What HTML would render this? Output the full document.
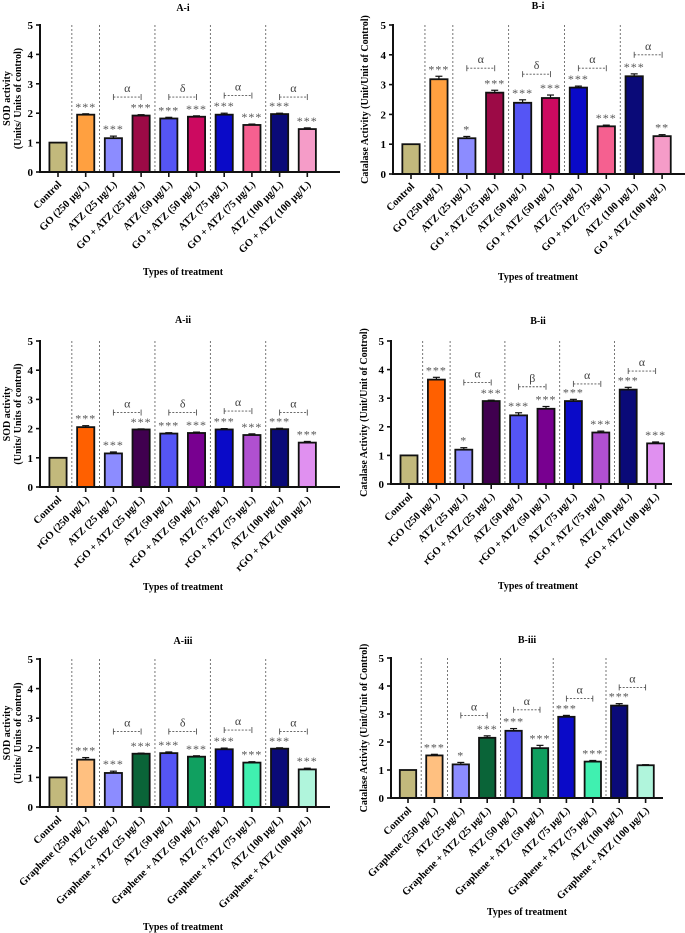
<!DOCTYPE html>
<html><head><meta charset="utf-8"><style>
body{margin:0;background:#fff}
svg{display:block;font-family:"Liberation Serif",serif}
</style></head><body>
<svg id="fig" width="685" height="933" viewBox="0 0 685 933" xmlns="http://www.w3.org/2000/svg"></svg>
<script>
const colsGO=["#c2b97c","#ffa040","#8c8cff","#9c0a46","#5555f5","#cc0a60","#0a0ac8","#f56090","#0a0a78","#f59cc8"];
const colsRGO=["#c2b97c","#ff6000","#8c8cff","#40004f","#5555f5","#780090","#0a0ac8","#b050d0","#0a0a78","#e090f0"];
const colsGR=["#c2b97c","#ffc080","#8c8cff","#0a6438","#5555f5","#10a060","#0a0ac8","#40f0b0","#0a0a78","#b0f5dc"];
const mk=n=>["Control",n+" (250 µg/L)","ATZ (25 µg/L)",n+" + ATZ (25 µg/L)","ATZ (50 µg/L)",n+" + ATZ (50 µg/L)","ATZ (75 µg/L)",n+" + ATZ (75 µg/L)","ATZ (100 µg/L)",n+" + ATZ (100 µg/L)"];
const catsGO=mk("GO"), catsRGO=mk("rGO"), catsGR=mk("Graphene");
const valsAi=[1,1.95,1.15,1.92,1.82,1.88,1.95,1.6,1.97,1.46];
const errAi=[0,0.03,0.07,0.03,0.04,0.03,0.05,0.03,0.03,0.04];
const valsBi=[1,3.18,1.2,2.73,2.39,2.55,2.9,1.6,3.28,1.27];
const errBi=[0,0.1,0.06,0.08,0.1,0.1,0.05,0.04,0.08,0.05];
const valsAii=[1,2.05,1.15,1.97,1.83,1.85,1.97,1.78,1.98,1.52];
const errAii=[0,0.05,0.05,0.02,0.03,0.03,0.03,0.04,0.03,0.04];
const valsBii=[1,3.65,1.2,2.9,2.4,2.63,2.9,1.8,3.3,1.42];
const errBii=[0,0.08,0.07,0.03,0.09,0.08,0.06,0.05,0.08,0.05];
const valsAiii=[1,1.6,1.15,1.8,1.82,1.7,1.95,1.5,1.97,1.27];
const errAiii=[0,0.07,0.06,0.02,0.04,0.03,0.04,0.03,0.03,0.04];
const valsBiii=[1,1.52,1.2,2.15,2.4,1.78,2.9,1.3,3.3,1.17];
const errBiii=[0,0.04,0.07,0.07,0.08,0.1,0.05,0.04,0.07,0.02];
const sigA=["","***","***","***","***","***","***","***","***","***"];
const sigBi=["","***","*","***","***","***","***","***","***","**"];
const sigBii=["","***","*","***","***","***","***","***","***","***"];
const sigBiii=["","***","*","***","***","***","***","***","***",""];
const brSymA=["α","δ","α","α"], brLvlA=[2.55,2.55,2.6,2.55];
const brSymBi=["α","δ","α","α"], brLvlBi=[3.55,3.35,3.55,4.0];
const brSymBii=["α","β","α","α"], brLvlBii=[3.55,3.4,3.5,3.95];
const brSymBiii=["α","α","α","α"], brLvlBiii=[2.95,3.15,3.55,3.95];
const yTicks=[0,1,2,3,4,5];

const svg=document.getElementById('fig');
const NS="http://www.w3.org/2000/svg";
function el(tag,attrs,parent,text){const e=document.createElementNS(NS,tag);for(const k in attrs)e.setAttribute(k,attrs[k]);if(text!==undefined)e.textContent=text;(parent||svg).appendChild(e);return e;}

function panel(p){
  const g=el('g',{});
  
  
  const ys=v=>p.y0-(p.y0-p.y5)*v/5;
  const xs=i=>p.x0+p.step*i;
  const bw=p.step*0.62;
  const t=el('text',{x:p.tx,y:p.ty,'font-size':10,'font-weight':'bold','text-anchor':'middle'},g,p.id);
  
  [0,1,3,5,7].forEach(i=>{
    const d=el('line',{x1:xs(i)+p.step/2,x2:xs(i)+p.step/2,y1:p.y5,y2:p.y0,stroke:'#555','stroke-width':0.8,'stroke-dasharray':'2,2'},g);
    
  });
  p.vals.forEach((v,i)=>{
    const x=xs(i);
    const b=el('rect',{x:x-bw/2,y:ys(v),width:bw,height:p.y0-ys(v),fill:p.cols[i],stroke:'#111','stroke-width':1.8},g);
    
    if(p.err[i]>0){
      const ey=ys(v+p.err[i]);
      el('line',{x1:x,x2:x,y1:ys(v),y2:ey,stroke:'#111','stroke-width':1.2},g);
      el('line',{x1:x-3.5,x2:x+3.5,y1:ey,y2:ey,stroke:'#111','stroke-width':1.2},g);
    }
    if(p.sig[i]){
      const s=el('text',{x:x,y:ys(v+p.err[i])-3,'font-size':12,fill:'#555','text-anchor':'middle','letter-spacing':'1'},g,p.sig[i]);
      
    }
    el('line',{x1:x,x2:x,y1:p.y0,y2:p.y0+5,stroke:'#111','stroke-width':1.6},g);
    const lx=x+4, ly=p.y0+13;
    const l=el('text',{x:lx,y:ly,'font-size':10.5,'font-weight':'bold','text-anchor':'end',transform:`rotate(-45 ${lx} ${ly})`},g,p.cats[i]);
    
  });
  p.brSym.forEach((s,k)=>{
    const a=xs(2+2*k), b=xs(3+2*k), y=ys(p.brLvl[k]);
    const bg=el('g',{},g);
    
    el('line',{x1:a,x2:b,y1:y,y2:y,stroke:'#555','stroke-width':0.9,'stroke-dasharray':'2,1.5'},bg);
    el('line',{x1:a,x2:a,y1:y-3,y2:y+3,stroke:'#555','stroke-width':0.9},bg);
    el('line',{x1:b,x2:b,y1:y-3,y2:y+3,stroke:'#555','stroke-width':0.9},bg);
    el('text',{x:(a+b)/2,y:y-5,'font-size':12,fill:'#444','text-anchor':'middle'},bg,s);
  });
  const ya=el('line',{x1:p.ax,x2:p.ax,y1:p.y5-1,y2:p.y0+1,stroke:'#111','stroke-width':2},g);
  
  const xa=el('line',{x1:p.ax-1,x2:p.xend,y1:p.y0,y2:p.y0,stroke:'#111','stroke-width':2},g);
  
  yTicks.forEach(v=>{
    el('line',{x1:p.ax-4,x2:p.ax,y1:ys(v),y2:ys(v),stroke:'#111','stroke-width':1.6},g);
    const tl=el('text',{x:p.ax-7,y:ys(v)+4,'font-size':11,'font-weight':'bold','text-anchor':'end'},g,v);
    
  });
  const cy=(p.y5+p.y0)/2;
  p.ylab.forEach((s,k)=>{
    const xx=p.ylx+k*11;
    const yl=el('text',{x:xx,y:cy,'font-size':10,'font-weight':'bold','text-anchor':'middle',transform:`rotate(-90 ${xx} ${cy})`},g,s);
    
  });
  const xt=el('text',{x:p.tx,y:p.xly,'font-size':10,'font-weight':'bold','text-anchor':'middle'},g,'Types of treatment');
  
}
const sodLab=["SOD activity","(Units/ Units of control)"];
const catLab=["Catalase Activity (Unit/Unit of Control)"];
panel({id:"A-i",tx:183,ty:11,ax:40,y5:25,y0:172,x0:58,step:27.7,xend:340,xly:275,vals:valsAi,err:errAi,cols:colsGO,cats:catsGO,sig:sigA,brSym:brSymA,brLvl:brLvlA,ylab:sodLab,ylx:10});
panel({id:"B-i",tx:538,ty:9,ax:393,y5:25,y0:174,x0:411,step:27.9,xend:685,xly:280,vals:valsBi,err:errBi,cols:colsGO,cats:catsGO,sig:sigBi,brSym:brSymBi,brLvl:brLvlBi,ylab:catLab,ylx:368});
panel({id:"A-ii",tx:183,ty:323,ax:40,y5:341,y0:487,x0:58,step:27.7,xend:340,xly:590,vals:valsAii,err:errAii,cols:colsRGO,cats:catsRGO,sig:sigA,brSym:brSymA,brLvl:brLvlA,ylab:sodLab,ylx:10});
panel({id:"B-ii",tx:538,ty:324,ax:391,y5:341,y0:484,x0:409,step:27.4,xend:672,xly:589,vals:valsBii,err:errBii,cols:colsRGO,cats:catsRGO,sig:sigBii,brSym:brSymBii,brLvl:brLvlBii,ylab:catLab,ylx:367});
panel({id:"A-iii",tx:183,ty:644,ax:40,y5:659,y0:807,x0:58,step:27.7,xend:330,xly:930,vals:valsAiii,err:errAiii,cols:colsGR,cats:catsGR,sig:sigA,brSym:brSymA,brLvl:brLvlA,ylab:sodLab,ylx:10});
panel({id:"B-iii",tx:527,ty:643,ax:391,y5:658,y0:798,x0:408,step:26.4,xend:663,xly:915,vals:valsBiii,err:errBiii,cols:colsGR,cats:catsGR,sig:sigBiii,brSym:brSymBiii,brLvl:brLvlBiii,ylab:catLab,ylx:367});
</script>
</body></html>
